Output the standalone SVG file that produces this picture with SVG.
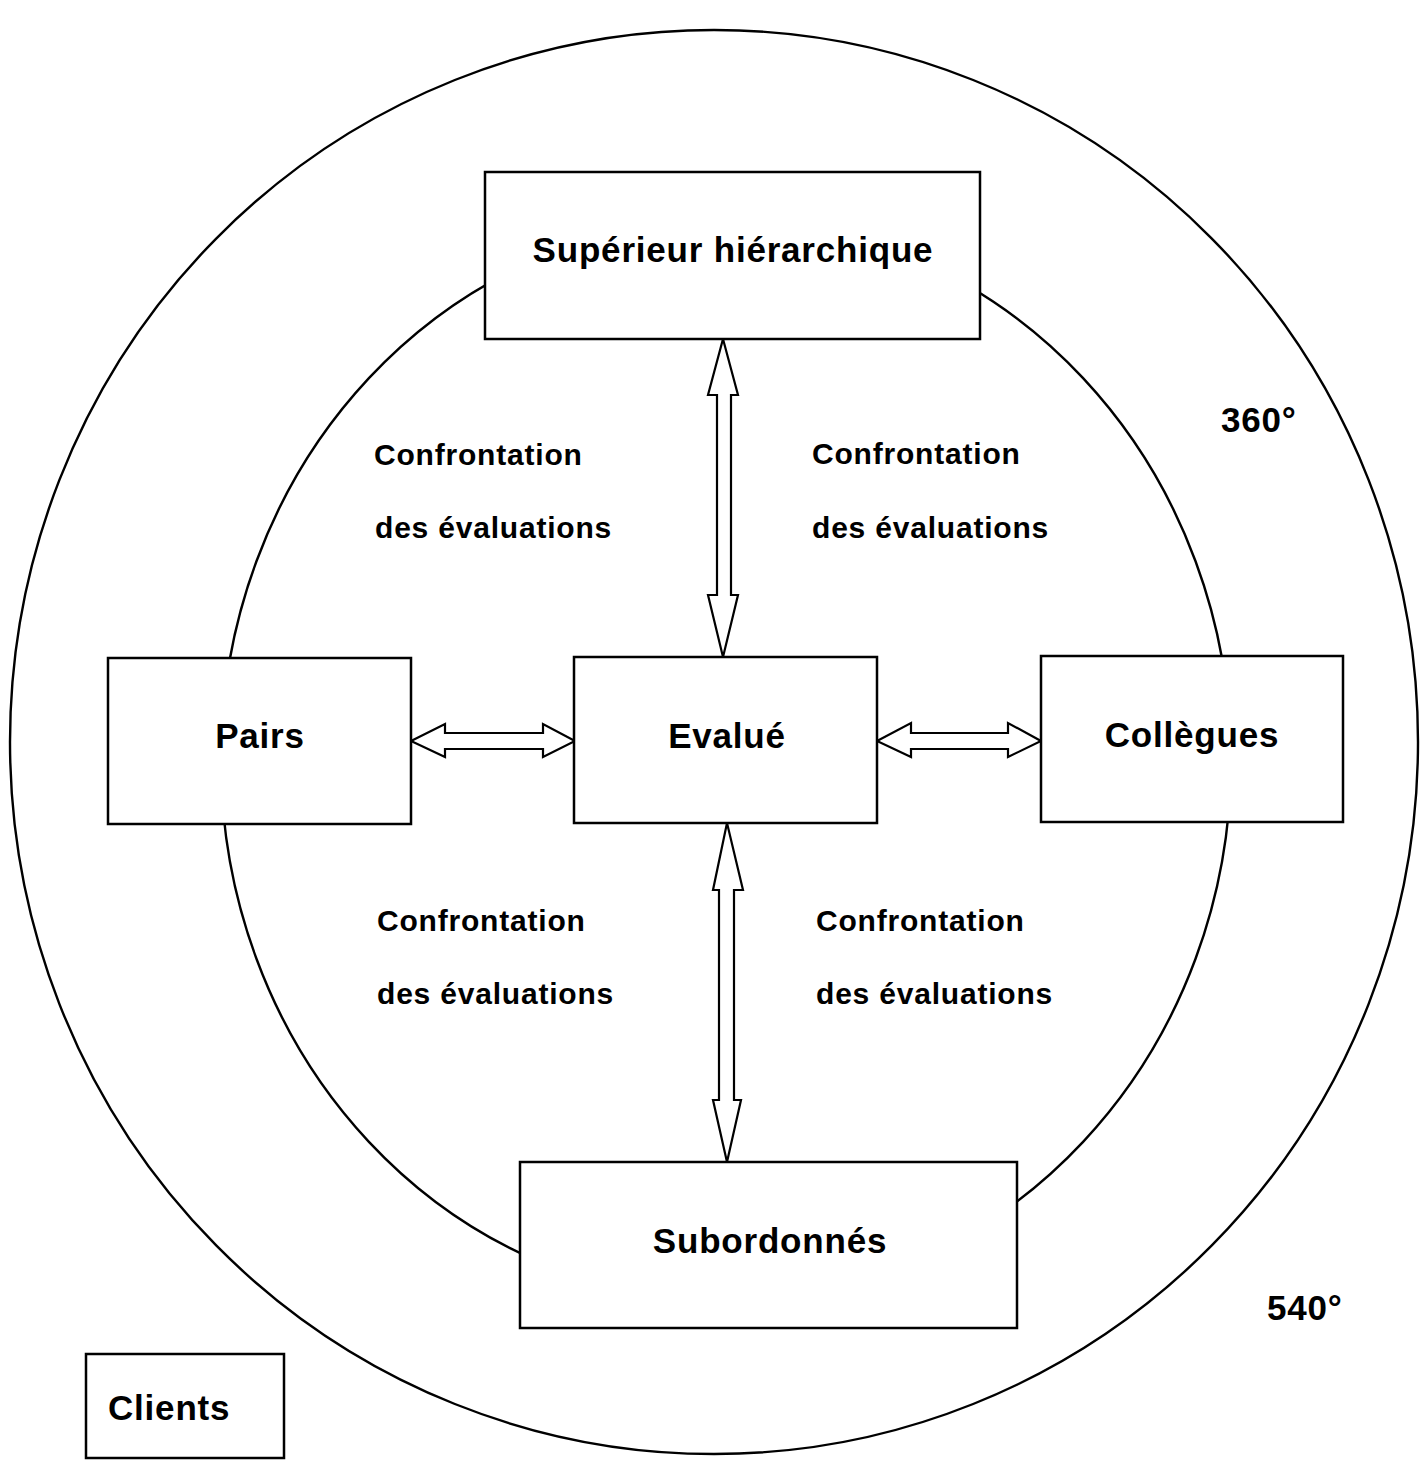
<svg xmlns="http://www.w3.org/2000/svg" width="1426" height="1462" viewBox="0 0 1426 1462">
<style>
.ring{fill:none;stroke:#000;stroke-width:2.4}
.box{fill:#fff;stroke:#000;stroke-width:2.5}
.arr{fill:#fff;stroke:#000;stroke-width:2.2;stroke-linejoin:miter}
.lbl{font-family:"Liberation Sans",Arial,sans-serif;font-weight:bold;font-size:35px;letter-spacing:0.8px;fill:#000}
.cf{font-family:"Liberation Sans",Arial,sans-serif;font-weight:bold;font-size:30px;letter-spacing:0.8px;fill:#000}
</style>
<rect width="1426" height="1462" fill="#fff"/>
<g id="rings">
<ellipse class="ring" cx="714" cy="742" rx="704" ry="712"/>
<ellipse class="ring" cx="726" cy="760" rx="505" ry="540"/>
</g>
<g id="connectors">
<polygon class="arr" points="723,339 738,395 731,395 731,595 738,595 723,657 708,595 717,595 717,395 708,395"/>
<polygon class="arr" points="727,823 743,890 734,890 734,1100 741,1100 727,1162 713,1100 719,1100 719,890 713,890"/>
<polygon class="arr" points="411,741 445,724 445,733 543,733 543,724 575,741 543,757 543,749 445,749 445,757"/>
<polygon class="arr" points="877,741 911,723 911,733 1008,733 1008,723 1041,741 1008,757 1008,749 911,749 911,757"/>
</g>
<g id="superieur">
<rect class="box" x="485" y="172" width="495" height="167"/>
<text class="lbl" x="733" y="262" text-anchor="middle">Supérieur hiérarchique</text>
</g>
<g id="pairs">
<rect class="box" x="108" y="658" width="303" height="166"/>
<text class="lbl" x="260" y="748" text-anchor="middle">Pairs</text>
</g>
<g id="evalue">
<rect class="box" x="574" y="657" width="303" height="166"/>
<text class="lbl" x="727" y="748" text-anchor="middle">Evalué</text>
</g>
<g id="collegues">
<rect class="box" x="1041" y="656" width="302" height="166"/>
<text class="lbl" x="1192" y="747" text-anchor="middle">Collègues</text>
</g>
<g id="subordonnes">
<rect class="box" x="520" y="1162" width="497" height="166"/>
<text class="lbl" x="770" y="1253" text-anchor="middle">Subordonnés</text>
</g>
<g id="clients">
<rect class="box" x="86" y="1354" width="198" height="104"/>
<text class="lbl" x="108" y="1420">Clients</text>
</g>
<g id="labels">
<text class="cf" x="374" y="465">Confrontation</text>
<text class="cf" x="375" y="538">des évaluations</text>
<text class="cf" x="812" y="464">Confrontation</text>
<text class="cf" x="812" y="538">des évaluations</text>
<text class="cf" x="377" y="931">Confrontation</text>
<text class="cf" x="377" y="1004">des évaluations</text>
<text class="cf" x="816" y="931">Confrontation</text>
<text class="cf" x="816" y="1004">des évaluations</text>
<text class="lbl" x="1221" y="432">360°</text>
<text class="lbl" x="1267" y="1320">540°</text>
</g>
</svg>
